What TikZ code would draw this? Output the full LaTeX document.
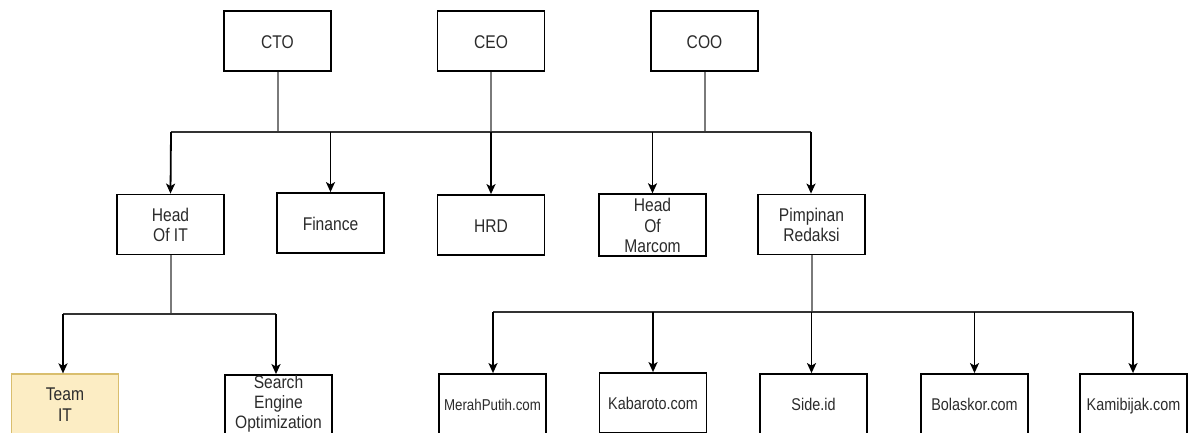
\documentclass[tikz,border=0pt]{standalone}
\usepackage{fontspec}
\usepackage{graphicx}
\setmainfont{Liberation Sans}
\usetikzlibrary{arrows.meta}
\definecolor{txtc}{HTML}{2B2B2B}
\definecolor{busc}{HTML}{333333}
\definecolor{stemc}{HTML}{7A7A7A}
\definecolor{yelfill}{HTML}{FCEDC4}
\definecolor{yeldraw}{HTML}{D9BE6E}
\newcommand\vtxt[1]{\raisebox{-3pt}[\height][\depth]{\scalebox{1}[1.18]{\begin{tabular}{@{}c@{}}#1\end{tabular}}}}
\newcommand\vtxtup[1]{\raisebox{1pt}[\height][\depth]{\scalebox{1}[1.15]{\begin{tabular}{@{}c@{}}#1\end{tabular}}}}
\tikzset{
  box/.style={draw=black, line width=1.8pt, rectangle, minimum width=107pt, minimum height=60pt,
    inner sep=0pt, align=center, text=txtc, font=\fontsize{15.6}{17.4}\selectfont},
  sitebox/.style={box, font=\fontsize{14.4}{16}\selectfont},
  yelbox/.style={box, draw=yeldraw, fill=yelfill, line width=1.2pt},
  busline/.style={draw=busc, line width=2pt},
  stem/.style={draw=stemc, line width=2pt},
  arr/.style={draw=black, line width=1.8pt, -{Stealth[length=10pt,width=9pt,inset=2.5pt]}}
}
\begin{document}
\begin{tikzpicture}[x=1pt,y=-1pt]
\clip (0,0) rectangle (1193,432);
\fill[white] (0,0) rectangle (1193,432);
% top level
\node[box] (cto) at (277.5,41) {\vtxt{CTO}};
\node[box] (ceo) at (491,41) {\vtxt{CEO}};
\node[box] (coo) at (704.5,41) {\vtxt{COO}};
% second level
\node[box] (hit) at (170.5,224.5) {\vtxt{Head\\Of IT}};
\node[box] (fin) at (330.5,223) {\vtxt{Finance}};
\node[box] (hrd) at (491,225) {\vtxt{HRD}};
\node[box] (mar) at (652.5,225) {\vtxt{Head\\Of\\Marcom}};
\node[box] (pim) at (811.5,224.5) {\vtxt{Pimpinan\\Redaksi}};
% third level
\node[yelbox] (team) at (65,404) {\vtxt{Team\\IT}};
\node[box] (seo) at (278.5,405) {\vtxtup{Search\\Engine\\Optimization}};
\node[sitebox, font=\fontsize{13.3}{15}\selectfont] (mp) at (492.5,404) {\vtxt{MerahPutih.com}};
\node[sitebox] (kab) at (653,403) {\vtxt{Kabaroto.com}};
\node[sitebox] (side) at (813.5,404) {\vtxt{Side.id}};
\node[sitebox] (bola) at (974.5,404) {\vtxt{Bolaskor.com}};
\node[sitebox] (kami) at (1133.5,404) {\vtxt{Kamibijak.com}};
% bus coordinates
\coordinate (busA) at (171,132);
\coordinate (busB) at (811,132);
\coordinate (busC) at (63,314);
\coordinate (busD) at (276,314);
\coordinate (busE) at (493,312);
\coordinate (busF) at (1133,312);
% stems
\draw[stem] (cto.south) -- (cto.south |- busA);
\draw[stem] (ceo.south) -- (ceo.south |- busA);
\draw[stem] (coo.south) -- (coo.south |- busA);
\draw[stem] (hit.south) -- (hit.south |- busC);
\draw[stem] (pim.south) -- (pim.south |- busE);
% buses
\draw[busline] (busA) -- (busB);
\draw[busline] (busC) -- (busD);
\draw[busline] (busE) -- (busF);
% arrows level 2
\draw[arr] (busA) -- (hit.north);
\draw[arr] (fin.north |- busA) -- (fin.north);
\draw[arr] (hrd.north |- busA) -- (hrd.north);
\draw[arr] (mar.north |- busA) -- (mar.north);
\draw[arr] (busB) -- (busB |- pim.north);
% arrows level 3
\draw[arr] (busC) -- (busC |- team.north);
\draw[arr] (busD) -- (busD |- seo.north);
\draw[arr] (busE) -- (busE |- mp.north);
\draw[arr] (kab.north |- busE) -- (kab.north);
\draw[arr] (pim.south |- busE) -- (pim.south |- side.north);
\draw[arr] (bola.north |- busE) -- (bola.north);
\draw[arr] (busF) -- (busF |- kami.north);
\end{tikzpicture}
\end{document}
